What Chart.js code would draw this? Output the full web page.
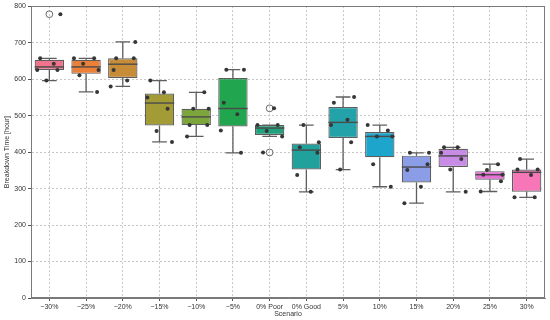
<!DOCTYPE html>
<html><head><meta charset="utf-8">
<script src="https://cdn.jsdelivr.net/npm/chart.js@4/dist/chart.umd.min.js"></script>
<style>html,body{margin:0;padding:0;background:#fff}#wrap{width:550px;height:320px}</style>
</head><body><div id="wrap"><canvas id="c"></canvas></div>
<script>
// ---- data ----
const scenarios = ['\u221230%','\u221225%','\u221220%','\u221215%','\u221210%','\u22125%','0% Poor','0% Good','5%','10%','15%','20%','25%','30%'];
const sM30  = [778, 657, 642, 625, 625, 596];
const sM25  = [657, 657, 642, 625, 611, 565];
const sM20  = [702, 657, 657, 625, 596, 580];
const sM15  = [596, 564, 550, 519, 458, 428];
const sM10  = [564, 519, 519, 474, 474, 443];
const sM5   = [626, 626, 535, 504, 459, 398];
const s0Poor= [520, 474, 474, 458, 443, 399];
const s0Good= [474, 427, 413, 398, 337, 291];
const sP5   = [551, 535, 489, 474, 427, 352];
const sP10  = [474, 459, 443, 443, 367, 305];
const sP15  = [398, 398, 367, 351, 305, 260];
const sP20  = [413, 413, 398, 381, 352, 291];
const sP25  = [367, 351, 338, 338, 320, 292];
const sP30  = [381, 352, 352, 337, 276, 276];
const samples = [sM30,sM25,sM20,sM15,sM10,sM5,s0Poor,s0Good,sP5,sP10,sP15,sP20,sP25,sP30];
const yTicks = [0,100,200,300,400,500,600,700,800];

// ---- styles ----
const boxColors = ['#f0758c','#ec8038','#c78c38','#a39b35','#7ca53c','#22a54f','#22a27c','#21a19b','#23a2aa','#1ea5cb','#8c9de8','#c88ce6','#ea70d7','#f676b8'];
const jitterPattern = [0.3,-0.25,0.12,-0.33,0.22,-0.08,0.34,-0.18];

// ---- box statistics (linear-interpolated quartiles, 1.5 IQR whiskers) ----
function quant(sorted,p){const pos=(sorted.length-1)*p,lo=Math.floor(pos),hi=Math.ceil(pos);return sorted[lo]+(sorted[hi]-sorted[lo])*(pos-lo);}
const stats = samples.map(arr=>{
  const s=[...arr].sort((a,b)=>a-b);
  const q1=quant(s,0.25), q3=quant(s,0.75), med=quant(s,0.5), iqr=q3-q1;
  const lf=q1-1.5*iqr, uf=q3+1.5*iqr;
  const inside=s.filter(v=>v>=lf&&v<=uf);
  return {q1,q3,med,lo:Math.min(...inside),hi:Math.max(...inside),out:s.filter(v=>v<lf||v>uf)};
});
const boxData = stats.map((s,i)=>({x:i,y:[s.q1,s.q3]}));
const stripPts=[]; samples.forEach((arr,i)=>arr.forEach((v,j)=>stripPts.push({x:i+jitterPattern[(j+i*3)%jitterPattern.length],y:v})));
const outPts=[]; stats.forEach((st,i)=>st.out.forEach(v=>outPts.push({x:i,y:v})));

const boxParts={
  id:'boxParts',
  afterDatasetDraw(chart,args){
    if(args.index!==0) return;
    const ctx=chart.ctx, ys=chart.scales.y;
    ctx.save();
    args.meta.data.forEach((el,i)=>{
      const st=stats[i], cx=el.x, w=el.width;
      const yq1=ys.getPixelForValue(st.q1), yq3=ys.getPixelForValue(st.q3);
      const ylo=ys.getPixelForValue(st.lo), yhi=ys.getPixelForValue(st.hi), ym=ys.getPixelForValue(st.med);
      ctx.strokeStyle='#5e5e5e'; ctx.lineWidth=1.3;
      ctx.beginPath();
      ctx.moveTo(cx,yq3); ctx.lineTo(cx,yhi);
      ctx.moveTo(cx,yq1); ctx.lineTo(cx,ylo);
      ctx.moveTo(cx-w/4,yhi); ctx.lineTo(cx+w/4,yhi);
      ctx.moveTo(cx-w/4,ylo); ctx.lineTo(cx+w/4,ylo);
      ctx.stroke();
      ctx.strokeStyle='#4a4a4a'; ctx.lineWidth=1.4;
      ctx.beginPath(); ctx.moveTo(cx-w/2,ym); ctx.lineTo(cx+w/2,ym); ctx.stroke();
    });
    ctx.restore();
  },
  afterDraw(chart){
    const a=chart.chartArea, ctx=chart.ctx;
    ctx.save(); ctx.strokeStyle='#7a7a7a'; ctx.lineWidth=1;
    ctx.strokeRect(Math.round(a.left)+0.5,Math.round(a.top)+0.5,Math.round(a.right-a.left)-1,Math.round(a.bottom-a.top)-1);
    ctx.restore();
  }
};

const FONT="'Liberation Sans', Arial, sans-serif";
new Chart(document.getElementById('c'),{
  type:'bar',
  data:{datasets:[
    {type:'bar',order:2,data:boxData,backgroundColor:boxColors,borderColor:'#5e5e5e',borderWidth:1.2,borderSkipped:false,barPercentage:0.8,categoryPercentage:1.0,grouped:false},
    {type:'scatter',order:0,data:stripPts,pointRadius:2,pointBackgroundColor:'#363636',pointBorderColor:'#363636',pointBorderWidth:0},
    {type:'scatter',order:1,data:outPts,pointRadius:3.4,pointBackgroundColor:'rgba(255,255,255,0)',pointBorderColor:'#6a6a6a',pointBorderWidth:1}
  ]},
  options:{
    responsive:true,maintainAspectRatio:false,animation:false,
    layout:{padding:{top:5,right:4,left:0,bottom:0}},
    plugins:{legend:{display:false},tooltip:{enabled:false}},
    scales:{
      x:{type:'linear',offset:false,min:-0.5,max:scenarios.length-0.5,
        afterBuildTicks:s=>{s.ticks=scenarios.map((_,i)=>({value:i}));},
        grid:{offset:false,color:'#b8b8b8',lineWidth:0.8,tickLength:3,tickColor:'#555',tickWidth:1},
        border:{display:true,color:'#7a7a7a',dash:[2,2]},
        ticks:{font:{family:FONT,size:7},color:'#333',padding:2,maxRotation:0,autoSkip:false,callback:v=>scenarios[v]},
        title:{display:true,text:'Scenario',font:{family:FONT,size:7},color:'#333',padding:{top:0,bottom:2}},
        afterFit:s=>{s.height=22;}
      },
      y:{min:0,max:800,
        afterBuildTicks:s=>{s.ticks=yTicks.map(v=>({value:v}));},
        grid:{color:'#b8b8b8',lineWidth:0.8,tickLength:3,tickColor:'#555',tickWidth:1},
        border:{display:true,color:'#7a7a7a',dash:[2,2]},
        ticks:{font:{family:FONT,size:7},color:'#333',padding:2},
        title:{display:true,text:'Breakdown Time [hour]',font:{family:FONT,size:7},color:'#333',padding:{top:3,bottom:0}},
        afterFit:s=>{s.width=31;}
      }
    }
  },
  plugins:[boxParts]
});
</script></body></html>
